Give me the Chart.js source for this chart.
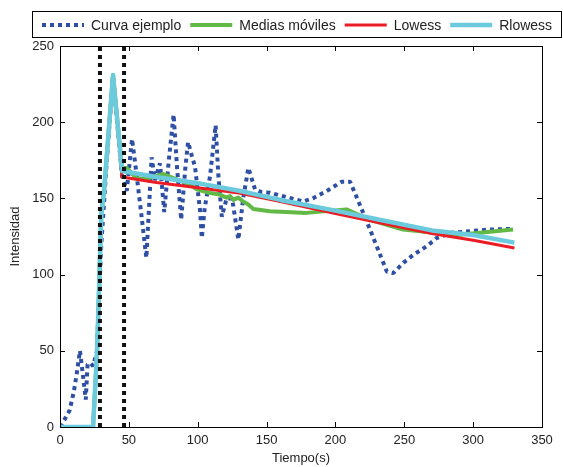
<!DOCTYPE html>
<html>
<head>
<meta charset="utf-8">
<script src="https://cdn.jsdelivr.net/npm/chart.js@4.4.0/dist/chart.umd.min.js"></script>
<style>
    html, body { margin: 0; padding: 0; background: #fff; }
    #wrap { width: 563px; height: 467px; }
</style>
</head>
<body>
<div id="wrap"><canvas id="intensidadchart"></canvas></div>
<script>
// Curva ejemplo (tiempo, intensidad)
const tiempoCurva = [0, 4, 7, 10, 12, 14.5, 16.5, 18.7, 20, 22, 24, 26.7, 30, 34, 38.5, 45, 48.5, 52.3, 55, 59, 62.7, 65, 66.5, 69, 72.6, 75.7, 79, 82.5, 85, 88, 91, 93, 96, 98, 101.7, 103, 105, 109, 113, 115, 117.5, 121, 125, 129.5, 133, 136.8, 141.6, 146.5, 152.5, 176.7, 183.5, 194, 204.6, 210.6, 215.5, 222.7, 230, 237.3, 242, 249.3, 256.6, 266.3, 273.5, 284.4, 297.7, 312, 329];
const valoresCurva = [0, 6, 11, 23, 34, 50, 35, 18, 41, 42, 40, 49, 120, 175, 230, 165, 155, 189, 170, 140, 111, 150, 177, 162, 173, 141, 175, 205, 170, 136, 170, 187, 177, 171, 142, 124, 143, 165, 198, 165, 138, 150, 150, 123, 150, 170, 156, 154, 153.7, 148, 150, 155, 161, 161, 150.6, 135, 118.6, 102, 101, 107.7, 113, 118.6, 124, 127.4, 128.5, 129.6, 130];

// Medias moviles
const tiempoMedias = [0, 24, 27, 30, 32, 38.5, 45, 48.4, 55.7, 63, 75, 94.4, 99.3, 109, 116, 121, 123.5, 125.9, 129.5, 133, 136.7, 140.4, 152.5, 179, 208, 225, 249, 288, 329];
const valoresMedias = [0, 0, 51, 140, 155, 231, 170, 170, 163, 163, 166, 159, 156, 153.5, 152.5, 150.5, 151.5, 149, 150.5, 148, 146, 143, 141.6, 140.5, 142.8, 136, 129.6, 126, 129.6];

// Lowess
const tiempoLowess = [0, 24, 27, 30, 32, 38.5, 45, 70, 100, 130, 160, 200, 232, 270, 300, 330];
const valoresLowess = [0, 0, 51, 140, 155, 231, 164, 160.5, 157, 153.5, 148, 140, 134, 127, 122.5, 117.5];

// Rlowess
const tiempoRlowess = [0, 24, 27, 30, 32, 38.5, 45, 70, 100, 130, 160, 200, 232, 270, 300, 330];
const valoresRlowess = [0, 0, 51, 140, 155, 231, 168, 164, 160, 155, 149, 142, 136, 129, 126, 121];

// lineas punteadas verticales
const lineasVerticales = [29, 46.5];

const xTicks = [0, 50, 100, 150, 200, 250, 300, 350];
const yTicks = [0, 50, 100, 150, 200, 250];

const fontFamily = '"Liberation Sans", Arial, sans-serif';

function toPoints(xs, ys) {
    return xs.map((x, i) => ({ x: x, y: ys[i] }));
}

// box + inward ticks like matlab
const boxPlugin = {
    id: 'boxPlugin',
    afterDraw(chart) {
        const ctx = chart.ctx;
        const area = chart.chartArea;
        const xs = chart.scales.x;
        const ys = chart.scales.y;
        ctx.save();
        ctx.strokeStyle = '#000';
        ctx.lineWidth = 1;
        ctx.strokeRect(Math.round(area.left) + 0.5, Math.round(area.top) + 0.5,
            Math.round(area.right - area.left), Math.round(area.bottom - area.top));
        ctx.beginPath();
        xTicks.forEach(t => {
            const px = Math.round(xs.getPixelForValue(t)) + 0.5;
            ctx.moveTo(px, area.bottom); ctx.lineTo(px, area.bottom - 5);
            ctx.moveTo(px, area.top); ctx.lineTo(px, area.top + 5);
        });
        yTicks.forEach(t => {
            const py = Math.round(ys.getPixelForValue(t)) + 0.5;
            ctx.moveTo(area.left, py); ctx.lineTo(area.left + 5, py);
            ctx.moveTo(area.right, py); ctx.lineTo(area.right - 5, py);
        });
        ctx.stroke();
        ctx.restore();
    }
};

// legend box at the top
const legendPlugin = {
    id: 'legendPlugin',
    afterDraw(chart) {
        const ctx = chart.ctx;
        ctx.save();
        ctx.fillStyle = '#fff';
        ctx.fillRect(33, 11, 529, 27);
        ctx.strokeStyle = '#000';
        ctx.lineWidth = 1;
        ctx.strokeRect(32.5, 11.5, 529, 26);
        ctx.font = '14px ' + fontFamily;
        ctx.textBaseline = 'middle';
        let x = 42;
        const y = 25;
        chart.data.datasets.forEach(ds => {
            if (!ds.label) return;
            ctx.beginPath();
            ctx.strokeStyle = ds.borderColor;
            ctx.lineWidth = ds.borderWidth;
            ctx.setLineDash(ds.borderDash || []);
            ctx.moveTo(x, y);
            ctx.lineTo(x + 42, y);
            ctx.stroke();
            ctx.setLineDash([]);
            ctx.fillStyle = '#222';
            ctx.fillText(ds.label, x + 49, y + 1);
            x += 49 + ctx.measureText(ds.label).width + 9;
        });
        ctx.restore();
    }
};

const baseLine = {
    pointRadius: 0,
    pointHoverRadius: 0,
    tension: 0,
    fill: false,
    borderCapStyle: 'butt',
    borderJoinStyle: 'round'
};

const datasets = [
    Object.assign({}, baseLine, {
        label: 'Curva ejemplo',
        data: toPoints(tiempoCurva, valoresCurva),
        borderColor: '#2f4fa3',
        borderWidth: 4,
        borderDash: [4, 4],
        borderJoinStyle: 'bevel',
        order: 5
    }),
    Object.assign({}, baseLine, {
        label: 'Medias móviles',
        data: toPoints(tiempoMedias, valoresMedias),
        borderColor: '#62b946',
        borderWidth: 4,
        order: 4
    }),
    Object.assign({}, baseLine, {
        label: 'Lowess',
        data: toPoints(tiempoLowess, valoresLowess),
        borderColor: '#ec1c24',
        borderWidth: 3,
        order: 3
    }),
    Object.assign({}, baseLine, {
        label: 'Rlowess',
        data: toPoints(tiempoRlowess, valoresRlowess),
        borderColor: '#6ccadd',
        borderWidth: 4.5,
        order: 2
    })
];

lineasVerticales.forEach(t => {
    datasets.push(Object.assign({}, baseLine, {
        label: '',
        data: [{ x: t, y: 0 }, { x: t, y: 250 }],
        borderColor: '#111',
        borderWidth: 4,
        borderDash: [4, 4],
        order: 1
    }));
});

const intensidadChart = new Chart(document.getElementById('intensidadchart'), {
    type: 'line',
    data: { datasets: datasets },
    options: {
        responsive: true,
        maintainAspectRatio: false,
        animation: false,
        events: [],
        layout: { padding: { top: 46, right: 21, left: 0, bottom: 0 } },
        plugins: {
            legend: { display: false },
            tooltip: { enabled: false }
        },
        scales: {
            x: {
                type: 'linear',
                min: 0,
                max: 350,
                grid: { display: false, drawTicks: false },
                border: { display: false },
                afterFit: scale => { scale.height = 40; },
                afterBuildTicks: scale => { scale.ticks = xTicks.map(v => ({ value: v })); },
                ticks: {
                    color: '#222',
                    padding: 6,
                    maxRotation: 0,
                    font: { family: fontFamily, size: 13 }
                },
                title: {
                    display: true,
                    text: 'Tiempo(s)',
                    color: '#222',
                    padding: { top: 0, bottom: 1 },
                    font: { family: fontFamily, size: 13 }
                }
            },
            y: {
                type: 'linear',
                min: 0,
                max: 250,
                grid: { display: false, drawTicks: false },
                border: { display: false },
                afterFit: scale => { scale.width = 60; },
                afterBuildTicks: scale => { scale.ticks = yTicks.map(v => ({ value: v })); },
                ticks: {
                    color: '#222',
                    padding: 6,
                    font: { family: fontFamily, size: 13 }
                },
                title: {
                    display: true,
                    text: 'Intensidad',
                    color: '#222',
                    padding: { top: 8, bottom: 0 },
                    font: { family: fontFamily, size: 13 }
                }
            }
        }
    },
    plugins: [boxPlugin, legendPlugin]
});
</script>
</body>
</html>
